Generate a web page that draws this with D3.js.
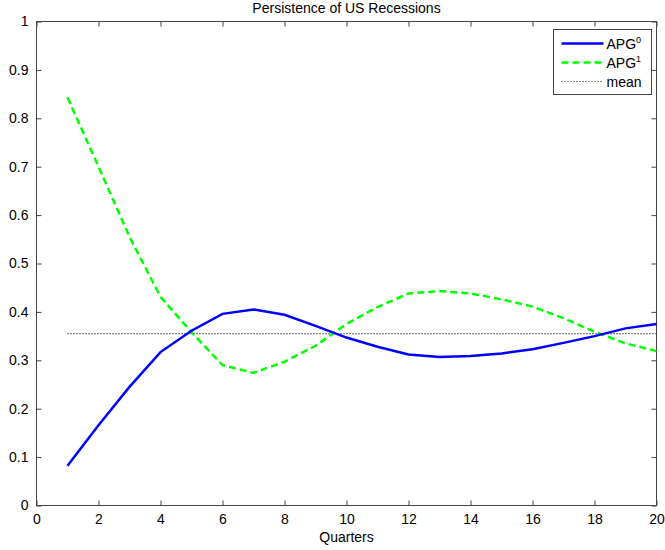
<!DOCTYPE html>
<html>
<head>
<meta charset="utf-8">
<script src="https://cdn.jsdelivr.net/npm/d3@7"></script>
<style>
  body { margin: 0; background: #fff; }
  text { font-family: "Liberation Sans", Arial, sans-serif; font-size: 14px; fill: #000; }
</style>
</head>
<body>
<div id="chart"></div>
<script>
const quarters = d3.range(1, 21);
const apg0 = [0.082, 0.166, 0.245, 0.317, 0.361, 0.396, 0.405, 0.394, 0.371, 0.347,
              0.328, 0.312, 0.307, 0.309, 0.314, 0.323, 0.336, 0.350, 0.366, 0.375];
const apg1 = [0.843, 0.700, 0.555, 0.431, 0.358, 0.290, 0.274, 0.297, 0.330, 0.375,
              0.410, 0.438, 0.443, 0.438, 0.426, 0.411, 0.387, 0.359, 0.335, 0.319];
const meanVal = 0.355;
const xTicks = d3.range(0, 21, 2);
const yTicks = d3.range(0, 11).map(d => d / 10);

const W = 665, H = 550;
const m = {top: 21.5, right: 8.5, bottom: 44.5, left: 36.5};
const iw = W - m.left - m.right, ih = H - m.top - m.bottom;

const svg = d3.select("#chart").append("svg").attr("width", W).attr("height", H);
const g = svg.append("g").attr("transform", `translate(${m.left},${m.top})`);

const x = d3.scaleLinear().domain([0, 20]).range([0, iw]);
const y = d3.scaleLinear().domain([0, 1]).range([ih, 0]);

// box
g.append("rect").attr("width", iw).attr("height", ih)
  .attr("fill", "none").attr("stroke", "#444").attr("stroke-width", 1);

// axes with inward ticks
const axColor = "#444";
const xb = g.append("g").attr("transform", `translate(0,${ih})`)
  .call(d3.axisBottom(x).tickValues(xTicks).tickSize(-5).tickPadding(9).tickFormat(d3.format("d")));
const xt = g.append("g")
  .call(d3.axisTop(x).tickValues(xTicks).tickSize(-5).tickFormat(""));
const yl = g.append("g")
  .call(d3.axisLeft(y).tickValues(yTicks).tickSize(-5).tickPadding(8).tickFormat(d => d === 0 || d === 1 ? d3.format("d")(d) : d3.format(".1f")(d)));
const yr = g.append("g").attr("transform", `translate(${iw},0)`)
  .call(d3.axisRight(y).tickValues(yTicks).tickSize(-5).tickFormat(""));
[xb, xt, yl, yr].forEach(a => {
  a.select(".domain").remove();
  a.selectAll("line").attr("stroke", axColor);
  a.selectAll("text").attr("font-size", 14).attr("font-family", "Liberation Sans, Arial, sans-serif").attr("fill", "#000");
});

const line = d3.line().x((d, i) => x(quarters[i])).y(d => y(d));

g.append("path").datum(quarters.map(() => meanVal))
  .attr("d", line).attr("fill", "none").attr("stroke", "#111")
  .attr("stroke-width", 1.2).attr("stroke-dasharray", "1,2");

g.append("path").datum(apg1)
  .attr("d", line).attr("fill", "none").attr("stroke", "#00ff00")
  .attr("stroke-width", 2.5).attr("stroke-dasharray", "7,4");

g.append("path").datum(apg0)
  .attr("d", line).attr("fill", "none").attr("stroke", "#0000ff")
  .attr("stroke-width", 2.5);

// title and label
svg.append("text").attr("x", m.left + iw / 2).attr("y", 13)
  .attr("text-anchor", "middle").text("Persistence of US Recessions");
svg.append("text").attr("x", m.left + iw / 2).attr("y", 542)
  .attr("text-anchor", "middle").text("Quarters");

// legend
const leg = svg.append("g").attr("transform", "translate(553.5,29.5)");
leg.append("rect").attr("width", 98).attr("height", 65)
  .attr("fill", "#fff").attr("stroke", "#444");
const items = [
  {name: "APG", sup: "0", color: "#0000ff", dash: null, w: 2.5},
  {name: "APG", sup: "1", color: "#00ff00", dash: "7,4", w: 2.5},
  {name: "mean", sup: null, color: "#111", dash: "1,2", w: 1.2}
];
items.forEach((it, i) => {
  const yy = 14 + i * 19;
  leg.append("line").attr("x1", 8).attr("x2", 50).attr("y1", yy).attr("y2", yy)
    .attr("stroke", it.color).attr("stroke-width", it.w)
    .attr("stroke-dasharray", it.dash);
  const t = leg.append("text").attr("x", 53).attr("y", yy + 5);
  t.append("tspan").text(it.name);
  if (it.sup) t.append("tspan").attr("dy", -6).attr("font-size", 9).text(it.sup);
});
</script>
</body>
</html>
